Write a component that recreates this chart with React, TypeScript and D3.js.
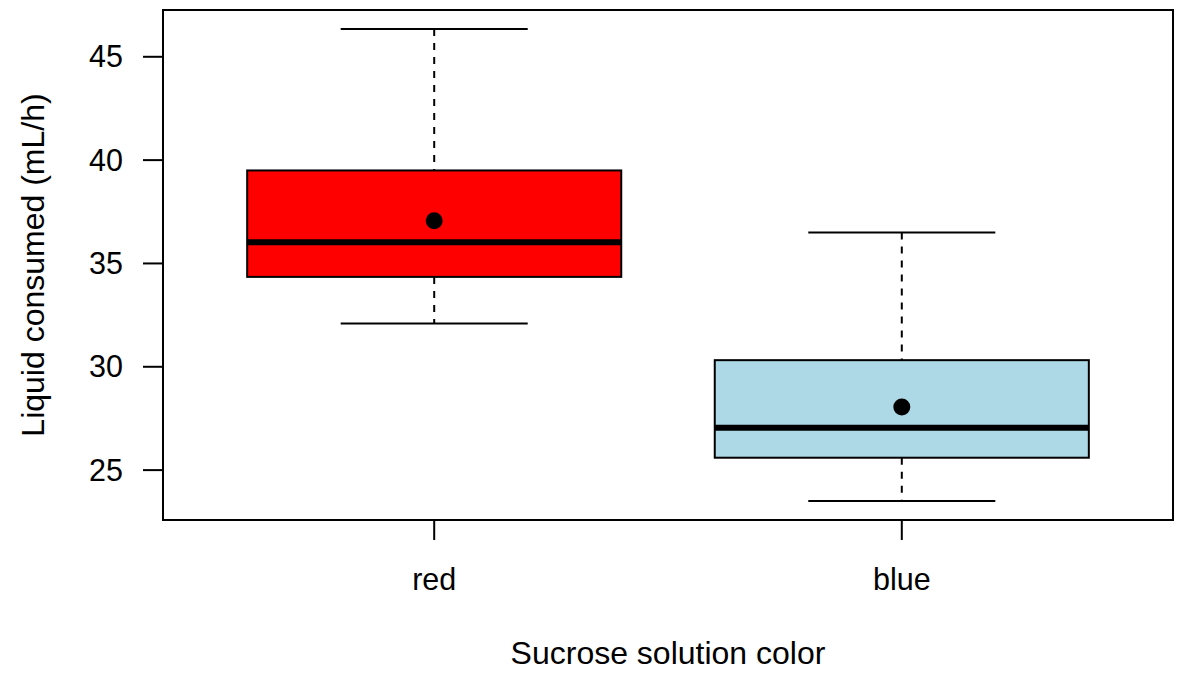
import * as d3 from 'd3';

const groups = ['red', 'blue'];
const fills = ['#FF0000', '#ADD8E6'];
const lowerWhisker = [32.1, 23.5];
const q1 = [34.35, 25.6];
const median = [36.02, 27.05];
const q3 = [39.5, 30.32];
const upperWhisker = [46.35, 36.5];
const means = [37.07, 28.05];
const yTicks = [25, 30, 35, 40, 45];

const W = 1177;
const H = 687;
const left = 163, right = 1173, top = 10, bottom = 520;
const font = 'Liberation Sans, Arial, sans-serif';
const tickFs = 30.5;
const titleFs = 32;

const App = () => {
  // R-style axis limits: data range extended 4% each side
  const lo = d3.min(lowerWhisker) as number;
  const hi = d3.max(upperWhisker) as number;
  const pad = (hi - lo) * 0.04;
  const y = d3.scaleLinear().domain([lo - pad, hi + pad]).range([bottom, top]);
  const x = d3.scaleLinear().domain([0.42, groups.length + 0.58]).range([left, right]);
  const bw = x(1.4) - x(1);

  return (
    <svg width={W} height={H} style={{ position: 'absolute', left: 0, top: 0, background: '#fff' }}>
      {groups.map((g, i) => {
        const cx = x(i + 1);
        return (
          <g key={g}>
            <line x1={cx} x2={cx} y1={y(upperWhisker[i])} y2={y(q3[i])} stroke="#000" strokeWidth={2} strokeDasharray="7,7" />
            <line x1={cx} x2={cx} y1={y(q1[i])} y2={y(lowerWhisker[i])} stroke="#000" strokeWidth={2} strokeDasharray="7,7" />
            <line x1={cx - bw / 2} x2={cx + bw / 2} y1={y(upperWhisker[i])} y2={y(upperWhisker[i])} stroke="#000" strokeWidth={2} />
            <line x1={cx - bw / 2} x2={cx + bw / 2} y1={y(lowerWhisker[i])} y2={y(lowerWhisker[i])} stroke="#000" strokeWidth={2} />
            <rect x={cx - bw} y={y(q3[i])} width={bw * 2} height={y(q1[i]) - y(q3[i])} fill={fills[i]} stroke="#000" strokeWidth={2} />
            <line x1={cx - bw} x2={cx + bw} y1={y(median[i])} y2={y(median[i])} stroke="#000" strokeWidth={6} />
            <circle cx={cx} cy={y(means[i])} r={8.5} fill="#000" />
          </g>
        );
      })}
      <rect x={left} y={top} width={right - left} height={bottom - top} fill="none" stroke="#000" strokeWidth={2} />
      {yTicks.map(t => (
        <g key={t}>
          <line x1={left - 20} x2={left} y1={y(t)} y2={y(t)} stroke="#000" strokeWidth={2} />
          <text x={left - 40} y={y(t)} dy="0.35em" textAnchor="end" fontFamily={font} fontSize={tickFs}>{t}</text>
        </g>
      ))}
      {groups.map((g, i) => (
        <g key={g}>
          <line x1={x(i + 1)} x2={x(i + 1)} y1={bottom} y2={bottom + 20} stroke="#000" strokeWidth={2} />
          <text x={x(i + 1)} y={590} textAnchor="middle" fontFamily={font} fontSize={tickFs}>{g}</text>
        </g>
      ))}
      <text x={(left + right) / 2} y={664} textAnchor="middle" fontFamily={font} fontSize={titleFs}>Sucrose solution color</text>
      <text transform={`translate(44,${(top + bottom) / 2}) rotate(-90)`} textAnchor="middle" fontFamily={font} fontSize={titleFs}>Liquid consumed (mL/h)</text>
    </svg>
  );
};

export default App;
